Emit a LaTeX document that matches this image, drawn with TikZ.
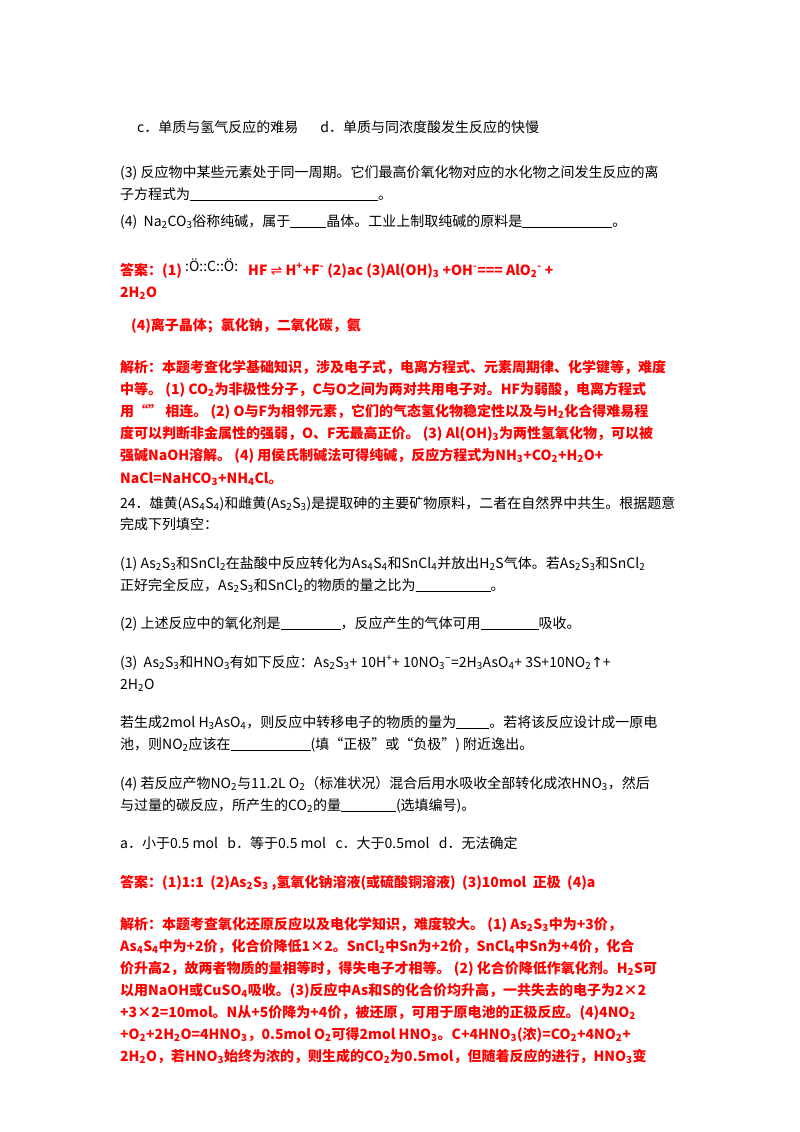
\documentclass[tikz,border=0pt]{standalone}
\usepackage{fontspec}
\setmainfont{Noto Sans CJK SC}
\newfontfamily\djv{DejaVu Sans}
\usetikzlibrary{positioning}
\definecolor{ansred}{HTML}{FF0000}
\newcommand\dn[1]{\textsubscript{#1}}
\newcommand\up[1]{\textsuperscript{#1}}
\newcommand\blank[1]{\rule[-2pt]{#1pt}{0.6pt}}
\begin{document}
\begin{tikzpicture}[x=1pt,y=-1pt,
  ln/.style={anchor=base west,inner sep=0pt,font=\fontsize{14}{16}\selectfont},
  an/.style={ln,text=ansred,font=\fontsize{14}{16}\selectfont\bfseries}]
\useasboundingbox[fill=white] (0,0) rectangle (800,1132);
\node[ln] (a1) at (137,132) {c．单质与氢气反应的难易\hspace{22pt}d．单质与同浓度酸发生反应的快慢};
\node[ln] (a2) at (120,177) {(3) 反应物中某些元素处于同一周期。它们最高价氧化物对应的水化物之间发生反应的离};
\node[ln] (a3) at (120,199) {子方程式为\blank{188}。};
\node[ln] (a4) at (120,226) {(4)\ \ Na\dn{2}CO\dn{3}俗称纯碱，属于\blank{36}晶体。工业上制取纯碱的原料是\blank{90}。};
\node[an] (b1) at (120,275) {答案：(1) \raisebox{4pt}{\textcolor{black}{\mdseries\fontsize{14}{14}\selectfont :Ö::C::Ö:}}\hspace{10pt}HF {\djv\mdseries ⇌} H\up{+}+F\up{-} (2)ac (3)Al(OH)\dn{3} +OH\up{-}=== AlO\dn{2}\up{-} +};
\node[an] (b2) at (120,297) {2H\dn{2}O};
\node[an] (b3) at (131,330) {(4)离子晶体；氯化钠，二氧化碳，氨};
\node[an] (c1) at (120,372) {解析：本题考查化学基础知识，涉及电子式，电离方程式、元素周期律、化学键等，难度};
\node[an] (c2) at (120,394) {中等。 (1) CO\dn{2}为非极性分子，C与O之间为两对共用电子对。HF为弱酸，电离方程式};
\node[an] (c3) at (120,416) {用“” 相连。 (2) O与F为相邻元素，它们的气态氢化物稳定性以及与H\dn{2}化合得难易程};
\node[an] (c4) at (120,438) {度可以判断非金属性的强弱，O、F无最高正价。 (3) Al(OH)\dn{3}为两性氢氧化物，可以被};
\node[an] (c5) at (120,460) {强碱NaOH溶解。 (4) 用侯氏制碱法可得纯碱，反应方程式为NH\dn{3}+CO\dn{2}+H\dn{2}O+};
\node[an] (c6) at (120,483) {NaCl=NaHCO\dn{3}+NH\dn{4}Cl。};
\node[ln] (d1) at (120,508) {24．雄黄(AS\dn{4}S\dn{4})和雌黄(As\dn{2}S\dn{3})是提取砷的主要矿物原料，二者在自然界中共生。根据题意};
\node[ln] (d2) at (120,529) {完成下列填空：};
\node[ln] (d3) at (120,568) {(1) As\dn{2}S\dn{3}和SnCl\dn{2}在盐酸中反应转化为As\dn{4}S\dn{4}和SnCl\dn{4}并放出H\dn{2}S气体。若As\dn{2}S\dn{3}和SnCl\dn{2}};
\node[ln] (d4) at (120,590) {正好完全反应，As\dn{2}S\dn{3}和SnCl\dn{2}的物质的量之比为\blank{75}。};
\node[ln] (d5) at (120,628) {(2) 上述反应中的氧化剂是\blank{60}，反应产生的气体可用\blank{58}吸收。};
\node[ln] (d6) at (120,667) {(3)\ \ As\dn{2}S\dn{3}和HNO\dn{3}有如下反应：As\dn{2}S\dn{3}+ 10H\up{+}+ 10NO\dn{3}\up{−}=2H\dn{3}AsO\dn{4}+ 3S+10NO\dn{2}{\djv↑}+};
\node[ln] (d7) at (120,689) {2H\dn{2}O};
\node[ln] (d8) at (120,727) {若生成2mol H\dn{3}AsO\dn{4}，则反应中转移电子的物质的量为\blank{33}。若将该反应设计成一原电};
\node[ln] (d9) at (120,749) {池，则NO\dn{2}应该在\blank{80}(填“正极”或“负极”) 附近逸出。};
\node[ln] (d10) at (120,788) {(4) 若反应产物NO\dn{2}与11.2L O\dn{2}（标准状况）混合后用水吸收全部转化成浓HNO\dn{3}，然后};
\node[ln] (d11) at (120,810) {与过量的碳反应，所产生的CO\dn{2}的量\blank{55}(选填编号)。};
\node[ln] (d12) at (120,848) {a．小于0.5 mol\ \ \ b．等于0.5 mol\ \ \ c．大于0.5mol\ \ \ d．无法确定};
\node[an] (e1) at (120,887) {答案：(1)1:1\ \ (2)As\dn{2}S\dn{3} ,氢氧化钠溶液(或硫酸铜溶液)\ \ (3)10mol\ \ 正极\ \ (4)a};
\node[an] (f1) at (120,929) {解析：本题考查氧化还原反应以及电化学知识，难度较大。 (1) As\dn{2}S\dn{3}中为+3价，};
\node[an] (f2) at (120,951) {As\dn{4}S\dn{4}中为+2价，化合价降低1×2。SnCl\dn{2}中Sn为+2价，SnCl\dn{4}中Sn为+4价，化合};
\node[an] (f3) at (120,973) {价升高2，故两者物质的量相等时，得失电子才相等。 (2) 化合价降低作氧化剂。H\dn{2}S可};
\node[an] (f4) at (120,995) {以用NaOH或CuSO\dn{4}吸收。(3)反应中As和S的化合价均升高，一共失去的电子为2×2};
\node[an] (f5) at (120,1017) {+3×2=10mol。N从+5价降为+4价，被还原，可用于原电池的正极反应。(4)4NO\dn{2}};
\node[an] (f6) at (120,1039) {+O\dn{2}+2H\dn{2}O=4HNO\dn{3}，0.5mol O\dn{2}可得2mol HNO\dn{3}。C+4HNO\dn{3}(浓)=CO\dn{2}+4NO\dn{2}+};
\node[an] (f7) at (120,1061) {2H\dn{2}O，若HNO\dn{3}始终为浓的，则生成的CO\dn{2}为0.5mol，但随着反应的进行，HNO\dn{3}变};
\end{tikzpicture}
\end{document}
